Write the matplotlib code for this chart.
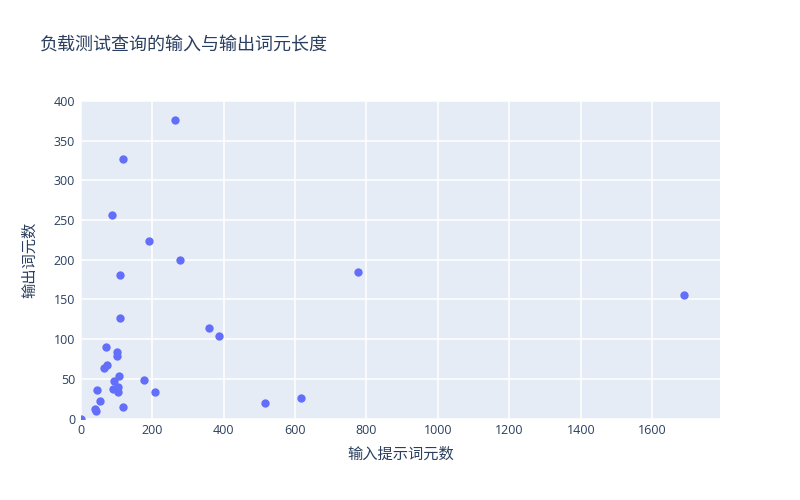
import matplotlib

matplotlib.use("Agg")
import matplotlib.pyplot as plt

plt.rcParams["font.family"] = ["Open Sans", "Noto Sans CJK SC", "DejaVu Sans"]

# input prompt tokens vs output tokens per load-test query
input_tokens = [265, 119, 88, 190, 278, 111, 110, 360, 387, 70, 102, 102, 72, 64, 107,
                92, 176, 103, 91, 105, 46, 209, 55, 40, 43, 119, 0, 517, 618, 776, 1689]
output_tokens = [376, 327, 257, 224, 200, 181, 126, 114, 104, 90, 84, 79, 68, 63, 53,
                 47, 48, 40, 37, 34, 36, 33, 22, 12, 10, 14, 0, 19, 26, 184, 155]

title = "负载测试查询的输入与输出词元长度"
x_label = "输入提示词元数"
y_label = "输出词元数"

text_color = "#2a3f5f"
fig = plt.figure(figsize=(8, 5), dpi=100)
ax = fig.add_axes([0.101, 0.163, 0.799, 0.635])
ax.set_facecolor("#E5ECF6")
ax.scatter(input_tokens, output_tokens, s=36, color="#636EFA", linewidths=0, zorder=3)

ax.set_xlim(0, 1790)
ax.set_ylim(0, 400)
ax.set_xticks(range(0, 1601, 200))
ax.set_yticks(range(0, 401, 50))
ax.grid(color="white", linewidth=1.1)
ax.set_axisbelow(True)
for spine in ax.spines.values():
    spine.set_visible(False)
ax.tick_params(length=0, labelsize=9, colors=text_color, pad=4)

ax.set_xlabel(x_label, fontsize=11, color=text_color, labelpad=8)
ax.set_ylabel(y_label, fontsize=11, color=text_color, labelpad=11)
fig.text(0.05, 0.91, title, fontsize=13, color=text_color, va="center")

fig.savefig("out.png")
